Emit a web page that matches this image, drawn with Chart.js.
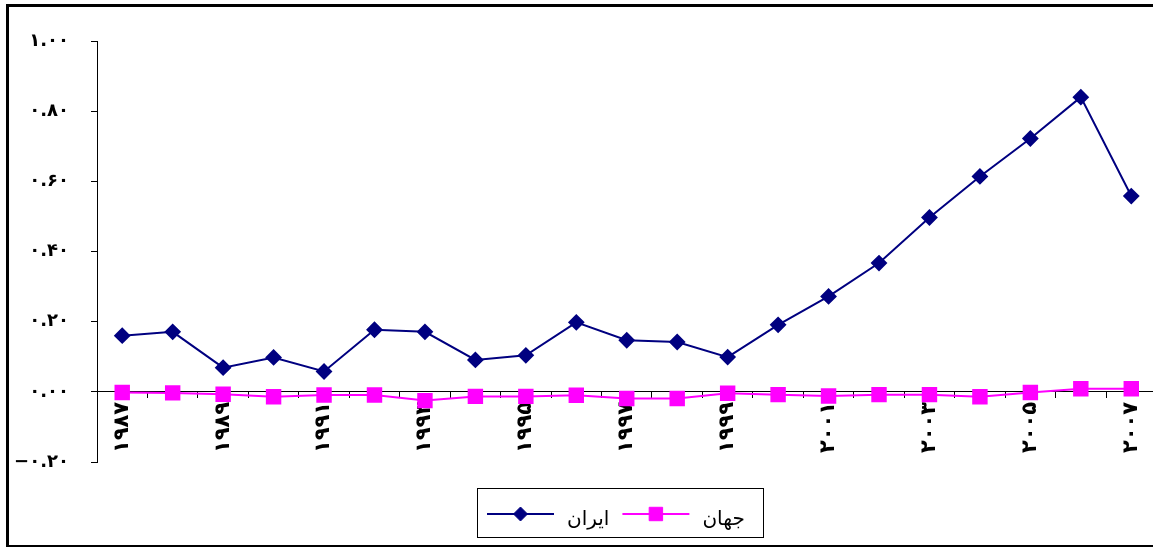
<!DOCTYPE html>
<html lang="fa">
<head>
<meta charset="utf-8">
<script src="https://cdn.jsdelivr.net/npm/chart.js@4.4.1/dist/chart.umd.min.js"></script>
<style>
  html, body { margin: 0; padding: 0; background: #fff; overflow: hidden; }
  #wrap { position: relative; width: 1168px; height: 548px; }
  #myChart { display: block; }
  #frame { position: absolute; left: 6px; top: 4px; width: 1200px; height: 538px;
    border-left: 3px solid #000; border-top: 3px solid #000; border-bottom: 2px solid #000; pointer-events: none; }
</style>
</head>
<body>
<div id="wrap">
  <canvas id="myChart" width="1168" height="548"></canvas>
  <div id="frame"></div>
</div>
<script>
// سال ها
const years = ['۱۹۸۷', '۱۹۸۸', '۱۹۸۹', '۱۹۹۰', '۱۹۹۱', '۱۹۹۲', '۱۹۹۳', '۱۹۹۴', '۱۹۹۵', '۱۹۹۶', '۱۹۹۷',
  '۱۹۹۸', '۱۹۹۹', '۲۰۰۰', '۲۰۰۱', '۲۰۰۲', '۲۰۰۳', '۲۰۰۴', '۲۰۰۵', '۲۰۰۶', '۲۰۰۷']
const iran = [0.160, 0.171, 0.069, 0.098, 0.058, 0.177, 0.171, 0.091, 0.104, 0.198, 0.147,
  0.142, 0.099, 0.191, 0.272, 0.367, 0.497, 0.614, 0.722, 0.840, 0.558]
const world = [-0.002, -0.003, -0.007, -0.014, -0.009, -0.009, -0.025, -0.013, -0.013, -0.010, -0.019,
  -0.019, -0.004, -0.008, -0.012, -0.008, -0.008, -0.014, -0.002, 0.009, 0.009]
const seriesNames = ['ایران', 'جهان']

const faDigits = '۰۱۲۳۴۵۶۷۸۹'
function toFa(str) {
  return str.replace(/[0-9]/g, d => faDigits[d])
}

const legendBox = {
  id: 'legendBox',
  afterDraw(chart) {
    const c = chart.ctx
    c.save()
    c.strokeStyle = '#000'
    c.lineWidth = 1
    c.strokeRect(477.5, 488.5, 286, 49)
    c.font = '20px "DejaVu Sans"'
    c.textBaseline = 'alphabetic'
    c.textAlign = 'left'
    let x = 487
    const y = 514
    chart.data.datasets.forEach(ds => {
      c.strokeStyle = ds.borderColor
      c.fillStyle = ds.backgroundColor
      c.lineWidth = 2
      c.beginPath()
      c.moveTo(x, y)
      c.lineTo(x + 67, y)
      c.stroke()
      c.lineWidth = 1
      Chart.helpers.drawPoint(c, { pointStyle: ds.pointStyle, radius: ds.pointRadius, borderWidth: 1, rotation: 0 }, x + 33.5, y)
      c.fillStyle = '#000'
      const tx = x + 67 + 13
      c.fillText(ds.label, tx, y + 11)
      x = tx + c.measureText(ds.label).width + 13
    })
    c.restore()
  }
}

new Chart(document.getElementById('myChart'), {
  type: 'line',
  data: {
    labels: years,
    datasets: [
      {
        label: seriesNames[0],
        data: iran,
        borderColor: '#000080',
        backgroundColor: '#000080',
        borderWidth: 2,
        pointStyle: 'rectRot',
        pointRadius: 7,
        tension: 0
      },
      {
        label: seriesNames[1],
        data: world,
        borderColor: '#FF00FF',
        backgroundColor: '#FF00FF',
        borderWidth: 2,
        pointStyle: 'rect',
        pointRadius: 9.5,
        tension: 0
      }
    ]
  },
  options: {
    responsive: false,
    animation: false,
    devicePixelRatio: 1,
    layout: { padding: { top: 41, bottom: 86, left: 0, right: 3 } },
    plugins: {
      legend: { display: false },
      tooltip: { enabled: false }
    },
    scales: {
      x: {
        position: { y: 0 },
        offset: true,
        grid: { offset: true, drawOnChartArea: false, color: '#000', tickLength: 6 },
        border: { color: '#000', width: 1 },
        ticks: {
          autoSkip: false,
          maxRotation: 90,
          minRotation: 90,
          padding: 4,
          color: '#000',
          font: { family: 'DejaVu Sans', size: 21, weight: 'bold' },
          callback: function (value, index) {
            return index % 2 === 0 ? years[index] : ''
          }
        },
        afterFit: function (scale) { scale.height = 0 }
      },
      y: {
        min: -0.2,
        max: 1.0,
        grid: { drawOnChartArea: false, color: '#000', tickLength: 6 },
        border: { color: '#000', width: 1 },
        ticks: {
          stepSize: 0.2,
          padding: 22,
          color: '#000',
          font: { family: 'DejaVu Sans', size: 18, weight: 'bold' },
          callback: function (value) {
            const s = toFa(Math.abs(value).toFixed(2))
            return value < -0.001 ? '−' + s : s
          }
        },
        afterFit: function (scale) { scale.width = 97 }
      }
    }
  },
  plugins: [legendBox]
})
</script>
</body>
</html>
